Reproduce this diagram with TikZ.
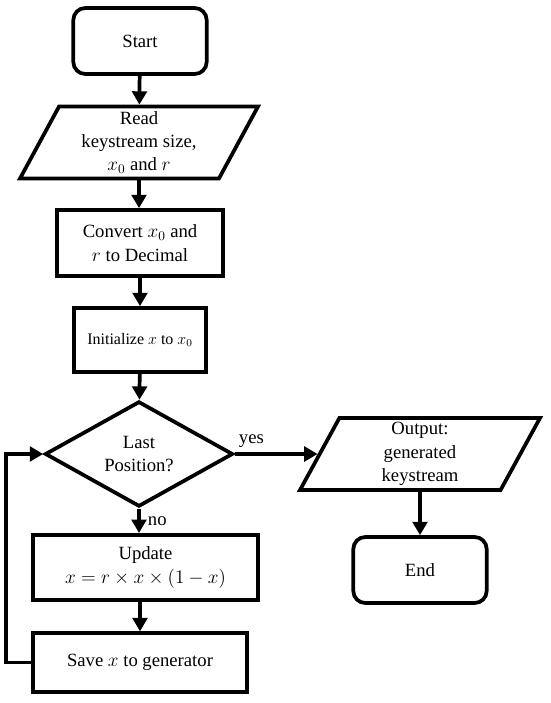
\documentclass[tikz,border=0pt]{standalone}
\usepackage{fontspec}
\setmainfont{Liberation Serif}
\usetikzlibrary{positioning}
\usetikzlibrary{shapes.geometric}
\usetikzlibrary{arrows.meta}

\begin{document}
\begin{tikzpicture}[
        x = 0.75pt, y = -0.75pt, % pixel grid of the reference
        > = {Triangle[length=10pt,width=11pt]}, % arrow head style
        line width = 2.8pt,
        font = \fontsize{14}{17.5}\selectfont,
        terminal/.style = {draw, rounded corners=9pt, align=center,
            minimum width=100pt, minimum height=49.5pt, inner sep=0pt},
        process/.style = {draw, align=center, inner sep=0pt},
        io/.style = {draw, trapezium, trapezium left angle=58,
            trapezium right angle=122, trapezium stretches body,
            align=center, inner sep=0pt, minimum height=54pt},
        decision/.style = {draw, diamond, align=center, inner sep=0pt,
            minimum width=141pt, minimum height=73.5pt}
        ]
  \useasboundingbox (0,0) rectangle (550,703);

  \node[terminal] (start) at (140,41) {Start};
  \node[io, minimum width=178.5pt] (read) at (139,142.5)
      {Read\\ keystream size,\\ $x_0$ and $r$};
  \node[process, minimum width=125pt, minimum height=49.5pt] (conv) at (140,243)
      {Convert $x_0$ and\\ $r$ to Decimal};
  \node[process, minimum width=99pt, minimum height=48pt,
      font=\fontsize{12}{14}\selectfont] (init) at (140,340)
      {Initialize $x$ to $x_0$};
  \node[decision] (last) at (139,454) {Last\\ Position?};
  \node[process, minimum width=169pt, minimum height=49pt] (upd) at (145.5,567.5)
      {Update\\ $x=r\times x\times(1-x)$};
  \node[process, minimum width=160.5pt, minimum height=44pt] (save) at (140,662.5)
      {Save $x$ to generator};
  \node[io, minimum width=180pt] (out) at (420,454)
      {Output:\\ generated\\ keystream};
  \node[terminal] (stop) at (420,570) {End};

  \draw[->] (start) -- (read);
  \draw[->] (read.south) -- (read.south |- conv.north);
  \draw[->] (conv) -- (init);
  \draw[->] (init) -- (last);
  \draw[->] (last.south) -- node[right, xshift=2pt] {no} (last.south |- upd.north);
  \draw[->] (upd.south -| save.north) -- (save.north);
  \draw[->] (save.west) -- ++(-25,0) |- (last.west);
  \draw[->] (last.east) -- node[above, pos=0.2] {yes} (out);
  \draw[->] (out) -- (stop);

\end{tikzpicture}
\end{document}
